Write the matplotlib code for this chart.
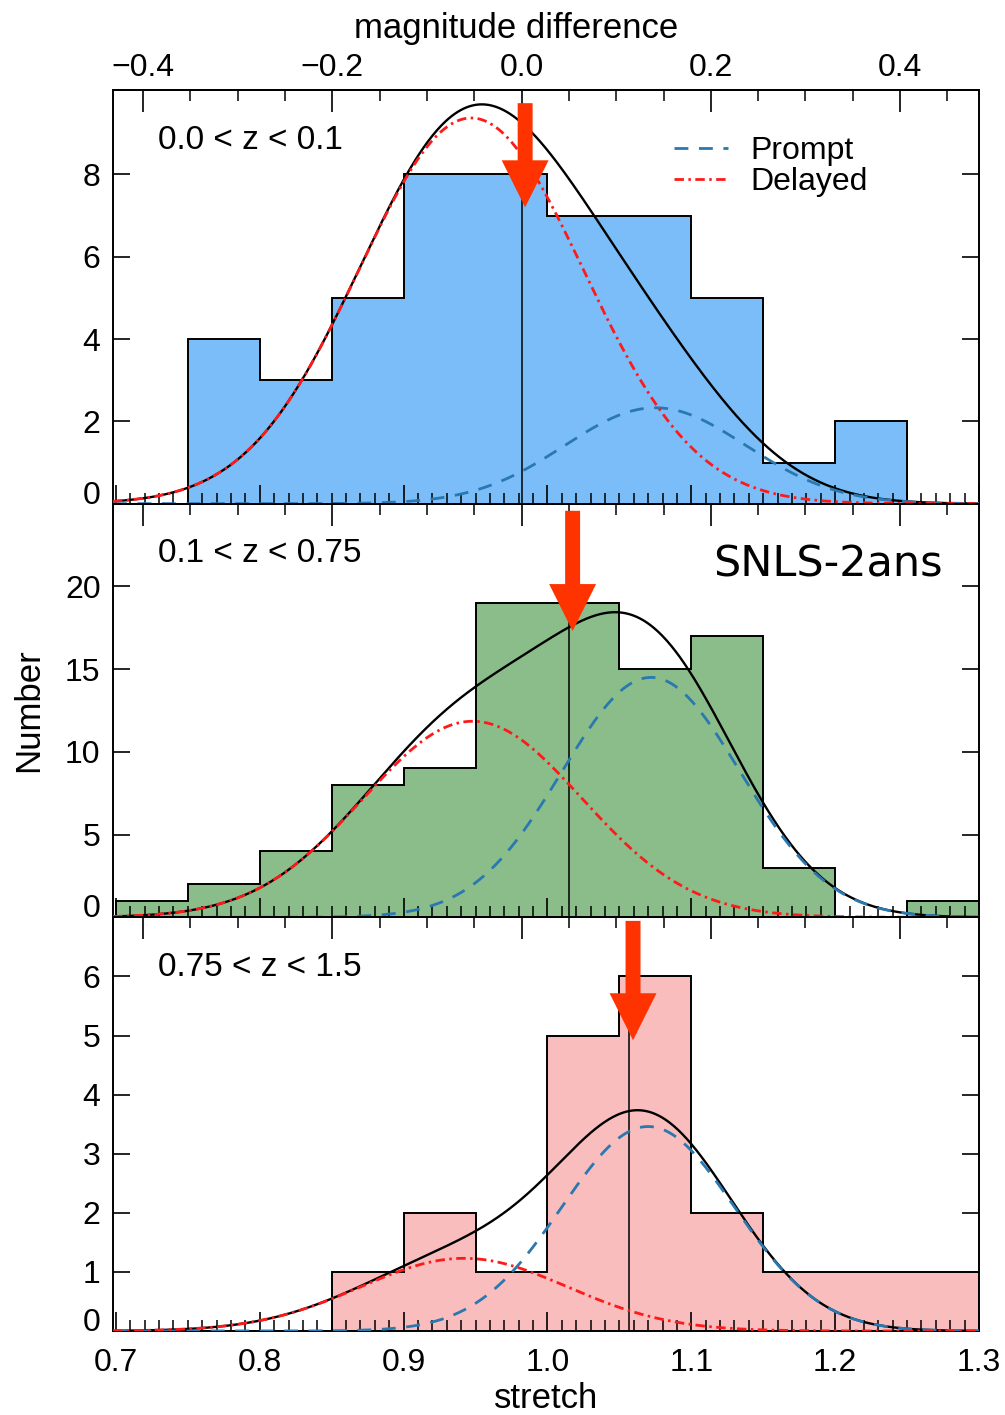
import numpy as np
import matplotlib
matplotlib.use("Agg")
import matplotlib.pyplot as plt
from matplotlib.ticker import MultipleLocator, FuncFormatter, FixedLocator

plt.rcParams["font.family"] = ["Liberation Sans", "DejaVu Sans"]
plt.rcParams["axes.unicode_minus"] = True

# ---- data -----------------------------------------------------------------
bin_edges = [0.70, 0.75, 0.80, 0.85, 0.90, 0.95, 1.00, 1.05, 1.10, 1.15, 1.20, 1.25, 1.30]

counts_low = [0, 4, 3, 5, 8, 8, 7, 7, 5, 1, 2, 0]        # 0.0 < z < 0.1
counts_mid = [1, 2, 4, 8, 9, 19, 19, 15, 17, 3, 0, 1]    # 0.1 < z < 0.75
counts_high = [0, 0, 0, 1, 2, 1, 5, 6, 2, 1, 1, 1]       # 0.75 < z < 1.5

z_labels = ["0.0 < z < 0.1", "0.1 < z < 0.75", "0.75 < z < 1.5"]

# two-component model: prompt + delayed Gaussians in stretch
prompt_amp = [2.33, 14.5, 3.46]
prompt_mean = [1.075, 1.072, 1.070]
prompt_sigma = [0.063, 0.062, 0.060]
delayed_amp = [9.37, 11.85, 1.23]
delayed_mean = [0.947, 0.948, 0.942]
delayed_sigma = [0.078, 0.076, 0.072]

mean_stretch = [0.982, 1.015, 1.057]

# stretch -> magnitude difference
alpha = 1.52
s_ref = 0.982
mag_major = [-0.4, -0.2, 0.0, 0.2, 0.4]
mag_minor = [-0.35, -0.3, -0.25, -0.15, -0.1, -0.05, 0.05, 0.1, 0.15,
             0.25, 0.3, 0.35, 0.45]

y_max = [10.05, 25.0, 7.0]
y_step = [2, 5, 1]
y_tick_max = [8, 20, 6]

fill_colors = ["#7bbdf8", "#8bbd8a", "#fabdbd"]
prompt_color = "#2a78b0"
delayed_color = "#ff1a1a"
arrow_color = "#ff3300"

# ---- figure ---------------------------------------------------------------
W, H = 1005, 1415
fig = plt.figure(figsize=(W / 100, H / 100), dpi=100)
left, right = 113 / W, 979 / W
top, bottom = 1 - 90 / H, 1 - 1331 / H
ph = (top - bottom) / 3
axes = [fig.add_axes([left, top - (i + 1) * ph, right - left, ph]) for i in range(3)]

counts_all = [counts_low, counts_mid, counts_high]
s = np.linspace(0.698, 1.30, 600)


def gauss(x, a, m, w):
    return a * np.exp(-0.5 * ((x - m) / w) ** 2)


def s2m(x):
    return alpha * (np.asarray(x) - s_ref)


def m2s(m):
    return np.asarray(m) / alpha + s_ref


def mag_fmt(v, pos):
    return f"{v:.1f}".replace("-0.0", "0.0").replace("-", "\u2212")


tick_fs = 23
label_fs = 25

for i, ax in enumerate(axes):
    counts = counts_all[i]
    ax.stairs(counts, bin_edges, fill=True, color=fill_colors[i], zorder=1)
    ax.stairs(counts, bin_edges, baseline=0, color="k", lw=1.4, zorder=2)

    pr = gauss(s, prompt_amp[i], prompt_mean[i], prompt_sigma[i])
    de = gauss(s, delayed_amp[i], delayed_mean[i], delayed_sigma[i])
    ax.plot(s, pr + de, color="k", lw=1.7, zorder=3)
    lp, = ax.plot(s, pr, color=prompt_color, lw=2.0, dashes=(5.0, 3.8), zorder=4,
                  label="Prompt")
    ld, = ax.plot(s, de, color=delayed_color, lw=2.0, dashes=(3.4, 1.6, 0.9, 1.6),
                  zorder=4, label="Delayed")

    # mean stretch marker
    k = np.searchsorted(bin_edges, mean_stretch[i]) - 1
    ax.vlines(mean_stretch[i], 0, counts[k], color="k", lw=1.1, zorder=3)

    ax.set_xlim(0.698, 1.30)
    ax.set_ylim(0, y_max[i])

    ax.xaxis.set_major_locator(MultipleLocator(0.1))
    ax.xaxis.set_minor_locator(MultipleLocator(0.01))
    ax.xaxis.set_major_formatter(FuncFormatter(lambda v, p: f"{v:.1f}"))
    ax.yaxis.set_major_locator(FixedLocator(list(range(0, y_tick_max[i] + 1, y_step[i]))))
    ax.tick_params(axis="x", which="major", direction="in", length=14, width=1.2,
                   top=False, bottom=True, labelsize=tick_fs, pad=12,
                   labelbottom=(i == 2))
    ax.tick_params(axis="x", which="minor", direction="in", length=8, width=1.1,
                   top=False, bottom=True)
    ax.tick_params(axis="y", which="major", direction="in", length=12, width=1.2,
                   left=True, right=True, labelsize=tick_fs, pad=9)
    for sp in ax.spines.values():
        sp.set_linewidth(1.4)

    # lift the zero label off the x axis
    ax.yaxis.get_major_ticks()[0].label1.set_verticalalignment("baseline")

    sec = ax.secondary_xaxis("top", functions=(s2m, m2s))
    sec.xaxis.set_major_locator(FixedLocator(mag_major))
    sec.xaxis.set_minor_locator(FixedLocator(mag_minor))
    sec.xaxis.set_major_formatter(FuncFormatter(mag_fmt))
    sec.tick_params(which="major", direction="in", length=16, width=1.2,
                    labelsize=tick_fs, pad=5, labeltop=(i == 0))
    sec.tick_params(which="minor", direction="in", length=8, width=1.1)
    sec.spines["top"].set_linewidth(1.4)
    if i == 0:
        sec.set_xlabel("magnitude difference", fontsize=label_fs, labelpad=11)
        sec.xaxis.label.set_x(0.465)

    ax.text(0.052, 0.879, z_labels[i], transform=ax.transAxes, fontsize=24,
            ha="left", va="center")

    # red arrow pointing at the mean
    ppu = ax.bbox.height / y_max[i]
    arrow_start = [9.73, 24.57, 6.94][i]
    arrow_tip = [7.2, 17.3, 4.92][i]
    ax.arrow(mean_stretch[i] + 0.0025, arrow_start, 0, arrow_tip - arrow_start,
             width=0.0104, head_width=0.0326, head_length=47 / ppu,
             length_includes_head=True, color=arrow_color, lw=0, zorder=10,
             clip_on=False)

    if i == 0:
        ax.legend(handles=[lp, ld], loc="upper left", bbox_to_anchor=(0.648, 0.888),
                  frameon=False, fontsize=23, handlelength=1.7, handletextpad=0.7,
                  labelspacing=0.02, borderpad=0, borderaxespad=0)

axes[1].set_ylabel("Number", fontsize=label_fs, labelpad=14)
axes[2].set_xlabel("stretch", fontsize=label_fs, labelpad=3)
axes[1].text(0.826, 0.825, "SNLS-2ans", transform=axes[1].transAxes,
             fontsize=31, family="DejaVu Sans", ha="center", va="baseline")

fig.savefig("out.png", dpi=100, facecolor="white")
